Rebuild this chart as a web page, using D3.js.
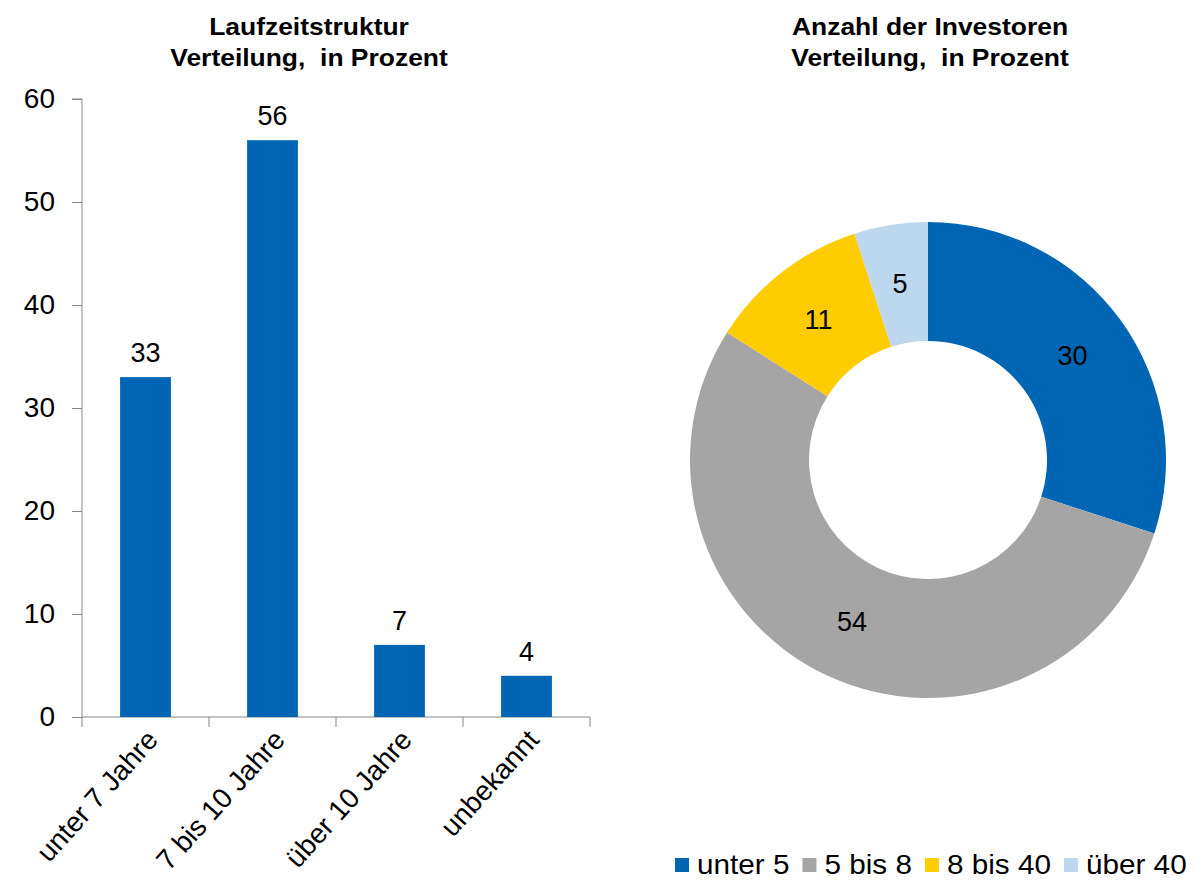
<!DOCTYPE html>
<html>
<head>
<meta charset="utf-8">
<script src="https://cdn.jsdelivr.net/npm/d3@7"></script>
<style>
  body { margin: 0; background: #fff; }
  text { font-family: "Liberation Sans", Arial, sans-serif; fill: #000; }
  .title { font-weight: bold; font-size: 23px; }
  .axis path, .axis line { stroke: #868686; }
  .axis text { font-size: 28px; }
</style>
</head>
<body>
<svg id="chart" width="1196" height="887"></svg>
<script>
// left chart: Laufzeitstruktur
const barCategories = ['unter 7 Jahre', '7 bis 10 Jahre', 'über 10 Jahre', 'unbekannt'];
const barValues = [33, 56, 7, 4];
const yTicks = [0, 10, 20, 30, 40, 50, 60];

// right chart: Anzahl der Investoren
const donutCategories = ['unter 5', '5 bis 8', '8 bis 40', 'über 40'];
const donutValues = [30, 54, 11, 5];
const donutColors = ['#0066b3', '#a5a5a5', '#ffcc00', '#bdd7ee'];

const barColor = '#0066b3';

const svg = d3.select('#chart');

// titles are set a bit wider than the plain font
function title(cx, line1, line2) {
  [line1, line2].forEach((s, i) => {
    svg.append('text')
      .attr('class', 'title')
      .attr('text-anchor', 'middle')
      .attr('xml:space', 'preserve')
      .attr('transform', 'translate(' + cx + ',' + (35 + i * 31) + ') scale(1.15,1)')
      .text(s);
  });
}

// ---------- bar chart ----------
const x = d3.scaleBand()
  .domain(barCategories)
  .range([82, 590])
  .paddingInner(0.6)
  .paddingOuter(0.3);

const y = d3.scaleLinear()
  .domain([0, 60])
  .range([717, 99]);

const yAxis = d3.axisLeft(y)
  .tickValues(yTicks)
  .tickSize(10)
  .tickPadding(17);

svg.append('g')
  .attr('class', 'axis')
  .attr('transform', 'translate(82,0)')
  .call(yAxis)
  .call(g => g.select('.domain').attr('d', 'M-10,' + y(60) + 'H0V' + y(0)));

// x axis line plus tick marks at the category boundaries
const step = x.step();
const bounds = d3.range(barCategories.length + 1).map(i => x.range()[0] + i * step);
const xg = svg.append('g').attr('class', 'axis');
xg.append('line')
  .attr('x1', x.range()[0]).attr('x2', x.range()[1])
  .attr('y1', y(0)).attr('y2', y(0));
xg.selectAll('.bt')
  .data(bounds)
  .enter().append('line')
  .attr('x1', d => d).attr('x2', d => d)
  .attr('y1', y(0)).attr('y2', y(0) + 10);

svg.selectAll('.bar')
  .data(barValues)
  .enter().append('rect')
  .attr('class', 'bar')
  .attr('fill', barColor)
  .attr('x', (d, i) => x(barCategories[i]))
  .attr('width', x.bandwidth())
  .attr('y', d => y(d))
  .attr('height', d => y(0) - y(d));

svg.selectAll('.barlabel')
  .data(barValues)
  .enter().append('text')
  .attr('class', 'barlabel')
  .attr('x', (d, i) => x(barCategories[i]) + x.bandwidth() / 2)
  .attr('y', d => y(d) - 15)
  .attr('text-anchor', 'middle')
  .style('font-size', '27px')
  .text(d => d);

svg.selectAll('.catlabel')
  .data(barCategories)
  .enter().append('text')
  .attr('class', 'catlabel')
  .attr('text-anchor', 'end')
  .style('font-size', '28px')
  .attr('transform', d => 'translate(' + (x(d) + x.bandwidth() / 2 + 14) + ',' + (y(0) + 24) + ') rotate(-48)')
  .text(d => d);

title(309, 'Laufzeitstruktur', 'Verteilung,  in Prozent');

// ---------- donut ----------
const cx = 928, cy = 460;
const outerR = 238, innerR = 119;

const pie = d3.pie().sort(null).value(d => d);
const arc = d3.arc().innerRadius(innerR).outerRadius(outerR);
const labelArc = d3.arc().innerRadius((innerR + outerR) / 2).outerRadius((innerR + outerR) / 2);

const dg = svg.append('g').attr('transform', 'translate(' + cx + ',' + cy + ')');
const arcs = pie(donutValues);

dg.selectAll('path')
  .data(arcs)
  .enter().append('path')
  .attr('d', arc)
  .attr('fill', (d, i) => donutColors[i]);

dg.selectAll('.slicelabel')
  .data(arcs)
  .enter().append('text')
  .attr('class', 'slicelabel')
  .attr('transform', d => 'translate(' + labelArc.centroid(d) + ')')
  .attr('text-anchor', 'middle')
  .attr('dy', '0.36em')
  .style('font-size', '27px')
  .text(d => d.data);

title(930, 'Anzahl der Investoren', 'Verteilung,  in Prozent');

// legend
const legend = svg.append('g').attr('transform', 'translate(675,874)');
let lx = 0;
donutCategories.forEach((c, i) => {
  legend.append('rect')
    .attr('x', lx).attr('y', -16)
    .attr('width', 14).attr('height', 14)
    .attr('fill', donutColors[i]);
  const t = legend.append('text')
    .attr('transform', 'translate(' + (lx + 22) + ',0) scale(1.1,1)')
    .style('font-size', '27px')
    .text(c);
  lx += 22 + t.node().getComputedTextLength() * 1.1 + 13;
});
</script>
</body>
</html>
